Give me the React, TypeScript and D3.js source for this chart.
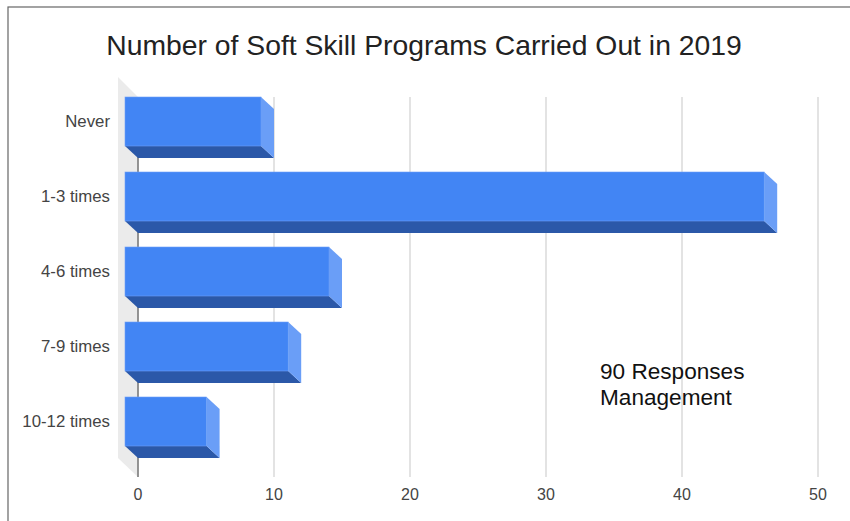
import React from "react";
import * as d3 from "d3";

const categories = ["Never", "1-3 times", "4-6 times", "7-9 times", "10-12 times"];
const values = [10, 47, 15, 12, 6];
const ticks = [0, 10, 20, 30, 40, 50];
const title = "Number of Soft Skill Programs Carried Out in 2019";
const noteLines = ["90 Responses", "Management"];

export default function App() {
  const W = 850, H = 521;
  const x = d3.scaleLinear().domain([0, 50]).range([138, 818]);
  const y = d3.scaleBand<string>().domain(categories).range([97, 458]).paddingInner(14 / 75).paddingOuter(0);
  const dx = 13, dy = 12;
  const bw = y.bandwidth();
  const frontH = bw - dy;
  const top = 97, bottom = 477;
  const font = "Arial, 'Liberation Sans', sans-serif";
  return (
    <svg width={W} height={H} style={{ position: "absolute", left: 0, top: 0 }} fontFamily={font}>
      <rect x={0} y={0} width={W} height={H} fill="#fff" />
      <rect x={8} y={7} width={900} height={600} fill="none" stroke="#666" strokeWidth={1.2} />
      <text x={424} y={55} textAnchor="middle" fontSize={28.3} fill="#222">{title}</text>
      {/* left wall */}
      <polygon points={`118,${top - 20} ${138},${top} 138,${bottom} 118,${bottom - 19}`} fill="#ebebeb" />
      {ticks.slice(1).map((t) => (
        <line key={t} x1={x(t)} x2={x(t)} y1={top} y2={bottom} stroke="#dadada" strokeWidth={1.5} />
      ))}
      <line x1={x(0)} x2={x(0)} y1={top} y2={bottom} stroke="#888" strokeWidth={1.8} />
      {ticks.map((t) => (
        <text key={t} x={x(t)} y={500} textAnchor="middle" fontSize={16} fill="#444">{t}</text>
      ))}
      {categories.map((c, i) => {
        const y0 = y(c)!;
        const x0 = x(0) - dx;
        const x1 = x(values[i]) - dx;
        return (
          <g key={c}>
            <polygon
              points={`${x0},${y0 + frontH} ${x1},${y0 + frontH} ${x1 + dx},${y0 + bw} ${x0 + dx},${y0 + bw}`}
              fill="#2b58a8"
            />
            <polygon
              points={`${x1},${y0} ${x1 + dx},${y0 + dy} ${x1 + dx},${y0 + bw} ${x1},${y0 + frontH}`}
              fill="#6a9ef7"
            />
            <rect x={x0} y={y0} width={x1 - x0} height={frontH} fill="#4285f4" stroke="#6d9ff7" strokeWidth={0.6} />
            <text x={110} y={y0 + 30} textAnchor="end" fontSize={16.8} fill="#444">{c}</text>
          </g>
        );
      })}
      {noteLines.map((l, i) => (
        <text key={l} x={600} y={379 + i * 26} fontSize={22.6} fill="#111">{l}</text>
      ))}
    </svg>
  );
}
